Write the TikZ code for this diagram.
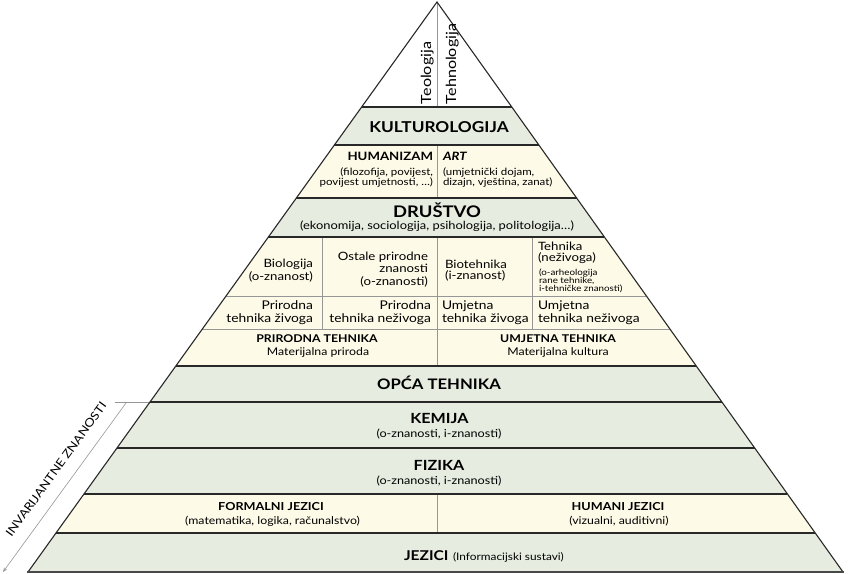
\documentclass[tikz,border=0pt]{standalone}
\usepackage{fontspec}
\setmainfont{Lato}[FakeStretch=1.15]
\usetikzlibrary{arrows.meta}
\definecolor{bandgreen}{RGB}{230,237,224}
\definecolor{bandcream}{RGB}{253,250,231}
\definecolor{divgray}{RGB}{150,150,150}
\definecolor{linedark}{RGB}{40,40,40}
\newcommand\fsz[2]{\fontsize{#1}{#2}\selectfont}
\newcommand\pyrband[3]{\fill[#3] ({xl(#1)},#1) -- ({xr(#1)},#1) -- ({xr(#2)},#2) -- ({xl(#2)},#2) -- cycle;}
\newcommand\pyrline[2]{\draw[#2] ({xl(#1)},#1) -- ({xr(#1)},#1);}
\begin{document}
\begin{tikzpicture}[x=1pt,y=-1pt,
  declare function={xl(\t)=437-0.71754*(\t-2); xr(\t)=437+0.7123*(\t-2);},
  hline/.style={draw=linedark,line width=1.1pt},
  gline/.style={draw=divgray,line width=0.6pt},
  lbl/.style={inner sep=0pt,outer sep=0pt,text=black},
  bighead/.style={lbl,anchor=base,font=\bfseries\fsz{15}{17}},
  midhead/.style={lbl,anchor=base,font=\bfseries\fsz{11}{12}},
  subtxt/.style={lbl,anchor=base,font=\fsz{11}{12}},
  celltxt/.style={lbl,font=\fsz{12}{13}}]
\useasboundingbox (0,0) rectangle (848,573);
% bands
\pyrband{107}{145}{bandgreen}
\pyrband{145}{198}{bandcream}
\pyrband{198}{237}{bandgreen}
\pyrband{237}{366}{bandcream}
\pyrband{366}{494}{bandgreen}
\pyrband{494}{533}{bandcream}
\pyrband{533}{572}{bandgreen}
% gray lines
\pyrline{296}{gline}
\pyrline{329}{gline}
\draw[gline] (437,2) -- (437,107);
\draw[gline] (437,145) -- (437,198);
\draw[gline] (437,237) -- (437,366);
\draw[gline] (322,237) -- (322,329);
\draw[gline] (532,237) -- (532,329);
\draw[gline] (437,494) -- (437,533);
\draw[gline] (115,402) -- ({xl(402)},402);
% dark lines
\foreach \yy in {107,145,198,237,366,402,448,494,533}{\pyrline{\yy}{hline}}
\draw[hline] ({xl(572)},572) -- (437,2) -- ({xr(572)},572);
\draw[draw=linedark!85,line width=2pt] ({xl(572)-0.7},572) -- ({xr(572)+0.7},572);
% arrow
\coordinate (arrtop) at (126,403);
\coordinate (arrbot) at (3,572);
\draw[gline,-{Stealth[length=4.5pt,width=3.5pt]}] (arrtop) -- (arrbot);
\node[lbl,rotate=54.1,font=\fsz{11.5}{12}] (inv) at (56,469.5) {INVARIJANTNE ZNANOSTI};
% texts
\node[lbl,rotate=90,anchor=base west,font=\fsz{14}{15}] (teo) at (431,104) {Teologija};
\node[lbl,rotate=90,anchor=base west,font=\fsz{14}{15}] (teh) at (456,104) {Tehnologija};
\node[bighead] (kult) at (439,132.3) {KULTUROLOGIJA};
\node[lbl,anchor=base east,align=right,font=\fsz{10}{10}] (hum) at (433,185)
  {{\bfseries\fsz{11.5}{10}HUMANIZAM}\\[4.3pt](filozofija, povijest,\\povijest umjetnosti, …)};
\node[lbl,anchor=base west,align=left,font=\fsz{10}{10}] (art) at (443,185)
  {{\bfseries\itshape\fsz{11.5}{10}ART}\\[4.3pt](umjetnički dojam,\\dizajn, vještina, zanat)};
\node[lbl,anchor=base,font=\bfseries\fsz{16}{18}] (drus) at (437,217.5) {DRUŠTVO};
\node[lbl,anchor=base,font=\fsz{11.2}{12}] (drussub) at (437,229.5) {(ekonomija, sociologija, psihologija, politologija…)};
% natural/artificial cells
\node[lbl,anchor=base east,align=right,font=\fsz{11.5}{11}] (bio) at (313,280) {Biologija\\(o-znanost)};
\node[lbl,anchor=base east,align=right,font=\fsz{11.5}{12.3}] (ost) at (428,285) {Ostale prirodne\\znanosti\\(o-znanosti)};
\node[lbl,anchor=base west,align=left,font=\fsz{11.5}{11}] (biot) at (445,279.5) {Biotehnika\\(i-znanost)};
\node[lbl,anchor=base west,align=left,font=\fsz{11.5}{10.5}] (tehn) at (538,261) {Tehnika\\(neživoga)};
\node[lbl,anchor=base west,align=left,font=\fsz{8.5}{8}] (tehnsm) at (539,291.5) {(o-arheologija\\rane tehnike,\\i-tehničke znanosti)};
\node[celltxt,anchor=base east,align=right] (ptz) at (313,322) {Prirodna\\tehnika živoga};
\node[celltxt,anchor=base east,align=right] (ptn) at (431,322) {Prirodna\\tehnika neživoga};
\node[celltxt,anchor=base west,align=left] (utz) at (442,322) {Umjetna\\tehnika živoga};
\node[celltxt,anchor=base west,align=left] (utn) at (538,322) {Umjetna\\tehnika neživoga};
\node[lbl,anchor=base,font=\bfseries\fsz{10.7}{12}] (prt) at (317,342.7) {PRIRODNA TEHNIKA};
\node[lbl,anchor=base,font=\fsz{10.7}{12}] (prtsub) at (318,355.5) {Materijalna priroda};
\node[lbl,anchor=base,font=\bfseries\fsz{10.7}{12}] (umt) at (558,342.7) {UMJETNA TEHNIKA};
\node[lbl,anchor=base,font=\fsz{10.7}{12}] (umtsub) at (558,355.5) {Materijalna kultura};
% lower bands
\node[lbl,anchor=base,font=\bfseries\fsz{14.5}{16}] (opca) at (439,389) {OPĆA TEHNIKA};
\node[lbl,anchor=base,font=\bfseries\fsz{14}{16}] (kem) at (439.5,423.3) {KEMIJA};
\node[subtxt] (kemsub) at (439,437.5) {(o-znanosti, i-znanosti)};
\node[lbl,anchor=base,font=\bfseries\fsz{14}{16}] (fiz) at (439,470.7) {FIZIKA};
\node[subtxt] (fizsub) at (439,484.5) {(o-znanosti, i-znanosti)};
\node[midhead] (form) at (271,510.7) {FORMALNI JEZICI};
\node[lbl,anchor=base,font=\fsz{10.7}{12}] (formsub) at (272.5,524) {(matematika, logika, računalstvo)};
\node[midhead] (huma) at (618,510.7) {HUMANI JEZICI};
\node[lbl,anchor=base,font=\fsz{10.7}{12}] (humasub) at (619,524) {(vizualni, auditivni)};
\node[lbl,anchor=base east,font=\bfseries\fsz{13.5}{16}] (jez) at (448.5,560) {JEZICI};
\node[lbl,anchor=base west,font=\fsz{10.3}{12}] (jezsub) at (453,560) {(Informacijski sustavi)};
\end{tikzpicture}
\end{document}
